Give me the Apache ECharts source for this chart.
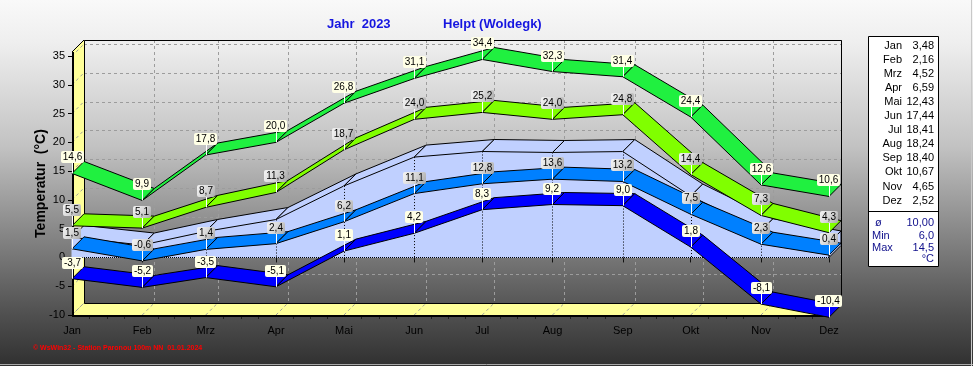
<!DOCTYPE html>
<html><head><meta charset="utf-8">
<script src="https://cdn.jsdelivr.net/npm/echarts@6/dist/echarts.min.js"></script>
<style>html,body{margin:0;padding:0;background:#fff}#c{width:973px;height:366px}</style>
</head><body><div id="c"></div>
<script>
// ---------- data ----------
const months = ['Jan','Feb','Mrz','Apr','Mai','Jun','Jul','Aug','Sep','Okt','Nov','Dez'];
const monthDays = [0,31,59,90,120,151,181,212,243,273,304,334];
const absMax = [14.6, 9.9, 17.8, 20.0, 26.8, 31.1, 34.4, 32.3, 31.4, 24.4, 12.6, 10.6];
const avgMax = [5.5, 5.1, 8.7, 11.3, 18.7, 24.0, 25.2, 24.0, 24.8, 14.4, 7.3, 4.3];
const meanT  = [3.48, 2.16, 4.52, 6.59, 12.43, 17.44, 18.41, 18.24, 18.40, 10.67, 4.65, 2.52];
const avgMin = [1.5, -0.6, 1.4, 2.4, 6.2, 11.1, 12.8, 13.6, 13.2, 7.5, 2.3, 0.4];
const absMin = [-3.7, -5.2, -3.5, -5.1, 1.1, 4.2, 8.3, 9.2, 9.0, 1.8, -8.1, -10.4];
const yTicks = [-10, -5, 0, 5, 10, 15, 20, 25, 30, 35];
const summaryNames  = ['ø', 'Min', 'Max'];
const summaryValues = ['10,00', '6,0', '14,5'];

// ---------- helpers ----------
const D = 12;
const Y_MIN = -10, Y_MAX = 35.7;
const FONT = '"Liberation Sans", Arial, sans-serif';
const mctx = document.createElement('canvas').getContext('2d');
mctx.font = '10px ' + FONT;
const tw = s => mctx.measureText(s).width;
const fmt = v => v.toFixed(1).replace('.', ',');
const fmt2 = v => v.toFixed(2).replace('.', ',');
const pts = vals => monthDays.map((d, i) => [d, vals[i]]);
const sh = p => [p[0] + D, p[1] - D];
const c5 = v => Math.round(v) + 0.5;

const minorVals = [];
for (let i = 0; i < monthDays.length - 1; i++) {
  for (let k = 1; k < 4; k++) minorVals.push(monthDays[i] + (monthDays[i + 1] - monthDays[i]) * k / 4);
}

function frameItem(params, api) {
  const last = monthDays[monthDays.length - 1];
  const tl = api.coord([0, Y_MAX]);
  const bl = api.coord([0, Y_MIN]);
  const br = api.coord([last, Y_MIN]);
  const tr = api.coord([last, Y_MAX]);
  const ch = [];
  const dash = {stroke: '#9c9c9c', lineWidth: 1, lineDash: [3, 3]};
  const ln = (a, b, st) => ch.push({type: 'line', shape: {x1: a[0], y1: a[1], x2: b[0], y2: b[1]}, style: st});
  ch.push({type: 'polygon', shape: {points: [tl, sh(tl), sh(bl), bl]}, style: {fill: '#ffff99'}});
  ch.push({type: 'polygon', shape: {points: [bl, br, sh(br), sh(bl)]}, style: {fill: '#ffff99'}});
  yTicks.forEach(v => {
    const a = api.coord([0, v]); const b = sh(a);
    const e = sh(api.coord([last, v]));
    ln([b[0], c5(b[1])], [e[0], c5(b[1])], dash);
    ln(a, b, dash);
  });
  monthDays.forEach(d => {
    const a = api.coord([d, Y_MIN]); const b = sh(a); const t = sh(api.coord([d, Y_MAX]));
    ln([c5(b[0]), t[1]], [c5(b[0]), b[1]], dash);
    ln(a, b, dash);
  });
  const blk = {stroke: '#000', lineWidth: 1};
  const blk2 = {stroke: '#000', lineWidth: 2};
  ln([c5(sh(tl)[0]), c5(sh(tl)[1])], [c5(sh(tr)[0]), c5(sh(tr)[1])], blk);
  ln([c5(sh(tr)[0]), c5(sh(tr)[1])], [c5(sh(br)[0]), c5(sh(br)[1])], blk);
  ln([c5(sh(tl)[0]), c5(sh(tl)[1])], [c5(sh(bl)[0]), c5(sh(bl)[1])], blk);
  ln([c5(sh(bl)[0]), c5(sh(bl)[1])], [c5(sh(br)[0]), c5(sh(br)[1])], blk);
  ln(br, sh(br), blk);
  ln(tl, sh(tl), blk);
  ln([tl[0] + 1, tl[1]], [bl[0] + 1, bl[1] + 1], blk2);
  ln([bl[0], bl[1] + 1], [br[0], br[1] + 1], blk2);
  return {type: 'group', children: ch};
}

function ribbonItem(vals, color) {
  return function (params, api) {
    const i = params.dataIndex;
    if (i >= vals.length - 1) return {type: 'group', children: []};
    const p = api.coord([api.value(0), api.value(1)]);
    const q = api.coord([monthDays[i + 1], vals[i + 1]]);
    return {type: 'polygon', shape: {points: [p, q, sh(q), sh(p)]},
      style: {fill: color, stroke: '#000', lineWidth: 1}};
  };
}

function meanItem(params, api) {
  const i = params.dataIndex, n = meanT.length;
  const fill = '#c0d0ff';
  const p = api.coord([api.value(0), api.value(1)]);
  const z = api.coord([api.value(0), 0]);
  const ch = [];
  if (i < n - 1) {
    const q = api.coord([monthDays[i + 1], meanT[i + 1]]);
    const zq = api.coord([monthDays[i + 1], 0]);
    ch.push({type: 'polygon', shape: {points: [p, q, zq, z]}, style: {fill: fill, stroke: fill, lineWidth: 1}});
    ch.push({type: 'polygon', shape: {points: [p, q, sh(q), sh(p)]}, style: {fill: fill, stroke: '#000', lineWidth: 1}});
  } else {
    ch.push({type: 'polygon', shape: {points: [p, sh(p), sh(z), z]}, style: {fill: fill, stroke: '#000', lineWidth: 1}});
    const z0 = api.coord([monthDays[0], 0]);
    ch.push({type: 'line', shape: {x1: z0[0], y1: c5(z0[1]), x2: z[0], y2: c5(z[1])},
      style: {stroke: '#000', lineWidth: 1, lineDash: [1, 1]}});
  }
  if (i > 0) {
    ch.push({type: 'line', shape: {x1: c5(p[0]), y1: p[1], x2: c5(z[0]), y2: z[1]},
      style: {stroke: '#000', lineWidth: 1, lineDash: [1, 2]}});
  }
  return {type: 'group', children: ch};
}

const grayBg = new echarts.graphic.LinearGradient(0, 0, 1, 1, [
  {offset: 0, color: '#f4f4f4'}, {offset: 0.5, color: '#d8d8d8'}, {offset: 1, color: '#a8a8a8'}]);
function labelItem(vals, bg) {
  return function (params, api) {
    const i = params.dataIndex;
    const p = api.coord([api.value(0), api.value(1)]);
    const txt = fmt(vals[i]);
    const w = Math.round(tw(txt) + 4), h = 12;
    const bx = Math.round(p[0] - w / 2), by = Math.round(p[1] - 10 - h);
    return {type: 'group', children: [
      {type: 'line', shape: {x1: c5(p[0]), y1: by + h, x2: c5(p[0]), y2: p[1]}, style: {stroke: '#fff', lineWidth: 1}},
      {type: 'rect', shape: {x: bx, y: by, width: w, height: h, r: 2}, style: {fill: bg}},
      {type: 'text', style: {text: txt, x: bx + w / 2, y: by + h / 2 + 0.5, textAlign: 'center',
        textVerticalAlign: 'middle', font: '10px ' + FONT, fill: '#000'}}
    ]};
  };
}

// ---------- option ----------
const chart = echarts.init(document.getElementById('c'));
const legendChildren = [
  {type: 'rect', shape: {x: 868.5, y: 36.5, width: 70, height: 230}, style: {fill: '#ffffff', stroke: '#000', lineWidth: 1}},
  {type: 'line', shape: {x1: 868.5, y1: 211.5, x2: 938.5, y2: 211.5}, style: {stroke: '#000', lineWidth: 1}}
];
months.forEach((m, i) => {
  const y = 46 + i * 14.05;
  legendChildren.push({type: 'text', style: {text: m, x: 902, y: y, textAlign: 'right', textVerticalAlign: 'middle', font: '11px ' + FONT, fill: '#000'}});
  legendChildren.push({type: 'text', style: {text: fmt2(meanT[i]), x: 934, y: y, textAlign: 'right', textVerticalAlign: 'middle', font: '11px ' + FONT, fill: '#000'}});
});
summaryNames.forEach((s, i) => {
  const y = 223 + i * 12.5;
  legendChildren.push({type: 'text', style: {text: s, x: i === 0 ? 875 : 872, y: y, textAlign: 'left', textVerticalAlign: 'middle', font: '11px ' + FONT, fill: '#10108c'}});
  legendChildren.push({type: 'text', style: {text: summaryValues[i], x: 934, y: y, textAlign: 'right', textVerticalAlign: 'middle', font: '11px ' + FONT, fill: '#10108c'}});
});
legendChildren.push({type: 'text', style: {text: '°C', x: 934, y: 259, textAlign: 'right', textVerticalAlign: 'middle', font: '11px ' + FONT, fill: '#10108c'}});

const option = {
  animation: false,
  backgroundColor: new echarts.graphic.LinearGradient(0, 0, 0, 1, [
    {offset: 0, color: '#f9f9f9'}, {offset: 0.12, color: '#eeeeee'}, {offset: 0.4, color: '#c2c2c2'},
    {offset: 0.7, color: '#777777'}, {offset: 0.85, color: '#525252'}, {offset: 1, color: '#303030'}]),
  grid: {left: 72, top: 52, width: 757, height: 263},
  xAxis: [{
    type: 'value', min: 0, max: monthDays[monthDays.length - 1],
    axisLine: {show: false}, splitLine: {show: false},
    axisTick: {show: true, length: 5, customValues: monthDays, lineStyle: {color: '#111'}},
    axisLabel: {customValues: monthDays, formatter: v => months[monthDays.indexOf(v)], margin: 10,
      fontSize: 11, fontFamily: FONT, color: '#000'}
  }, {
    type: 'value', min: 0, max: monthDays[monthDays.length - 1], position: 'bottom',
    axisLine: {show: false}, splitLine: {show: false},
    axisTick: {show: true, length: 4, customValues: minorVals, lineStyle: {color: '#222'}},
    axisLabel: {show: false}
  }],
  yAxis: {
    type: 'value', min: Y_MIN, max: Y_MAX, interval: 5,
    axisLine: {show: false}, splitLine: {show: false},
    axisTick: {show: true, length: 4, customValues: yTicks, lineStyle: {color: '#000'}},
    axisLabel: {customValues: yTicks, margin: 7, fontSize: 11, fontFamily: FONT, color: '#000'},
    name: 'Temperatur  (°C)', nameLocation: 'middle', nameRotate: 90, nameGap: 24, nameMoveOverlap: false,
    nameTextStyle: {fontSize: 14, fontWeight: 'bold', fontFamily: FONT, color: '#000'}
  },
  series: [
    {type: 'custom', z: 1, silent: true, data: [[0, Y_MIN]], renderItem: frameItem},
    {type: 'custom', z: 2, silent: true, data: pts(meanT), renderItem: meanItem},
    {type: 'custom', z: 3, silent: true, data: pts(avgMin), renderItem: ribbonItem(avgMin, '#0080ff')},
    {type: 'custom', z: 3, silent: true, data: pts(absMin), renderItem: ribbonItem(absMin, '#0000ff')},
    {type: 'custom', z: 3, silent: true, data: pts(avgMax), renderItem: ribbonItem(avgMax, '#80ff00')},
    {type: 'custom', z: 3, silent: true, data: pts(absMax), renderItem: ribbonItem(absMax, '#20f040')},
    {type: 'custom', z: 5, silent: true, data: pts(avgMin), renderItem: labelItem(avgMin, grayBg)},
    {type: 'custom', z: 5, silent: true, data: pts(absMin), renderItem: labelItem(absMin, '#ffffe6')},
    {type: 'custom', z: 5, silent: true, data: pts(avgMax), renderItem: labelItem(avgMax, grayBg)},
    {type: 'custom', z: 5, silent: true, data: pts(absMax), renderItem: labelItem(absMax, '#ffffe6')}
  ],
  graphic: [
    {type: 'text', style: {text: 'Jahr  2023', x: 327, y: 24, textVerticalAlign: 'middle', font: 'bold 13px ' + FONT, fill: '#1515e0'}},
    {type: 'text', style: {text: 'Helpt (Woldegk)', x: 443, y: 24, textVerticalAlign: 'middle', font: 'bold 13px ' + FONT, fill: '#1515e0'}},
    {type: 'text', style: {text: '© WsWin32 - Station Paronou 100m NN  01.01.2024', x: 33, y: 348, textVerticalAlign: 'middle', font: 'bold 7px ' + FONT, fill: '#ff0000'}},
    {type: 'group', children: legendChildren},
    {type: 'line', shape: {x1: 0, y1: 364.5, x2: 973, y2: 364.5}, style: {stroke: '#a8a8a8', lineWidth: 1}},
    {type: 'line', shape: {x1: 971.5, y1: 0, x2: 971.5, y2: 366}, style: {stroke: '#c8c8c8', lineWidth: 1}}
  ]
};
chart.setOption(option);
</script></body></html>
